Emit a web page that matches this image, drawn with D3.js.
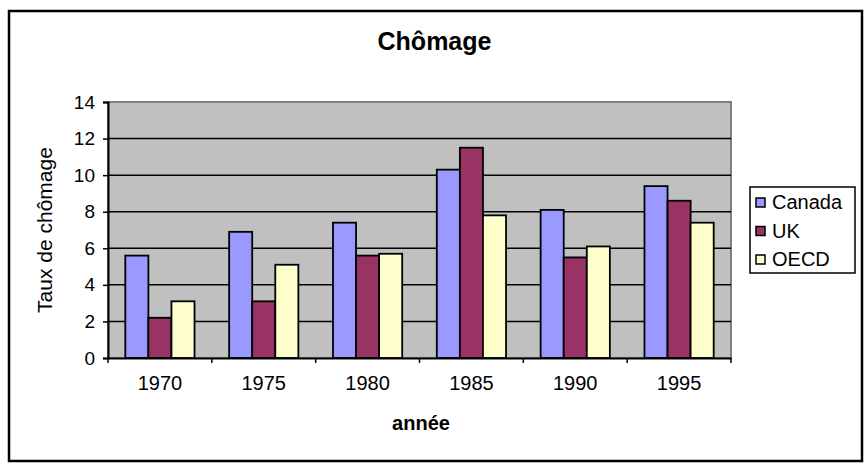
<!DOCTYPE html>
<html>
<head>
<meta charset="utf-8">
<script src="https://cdn.jsdelivr.net/npm/d3@7"></script>
<style>
  body { margin: 0; background: #fff; }
  svg { display: block; font-family: "Liberation Sans", Arial, sans-serif; }
</style>
</head>
<body>
<svg id="chart" width="865" height="466"></svg>
<script>
const years = ["1970", "1975", "1980", "1985", "1990", "1995"];
const seriesNames = ["Canada", "UK", "OECD"];
const canada = [5.6, 6.9, 7.4, 10.3, 8.1, 9.4];
const uk = [2.2, 3.1, 5.6, 11.5, 5.5, 8.6];
const oecd = [3.1, 5.1, 5.7, 7.8, 6.1, 7.4];
const yTicks = [0, 2, 4, 6, 8, 10, 12, 14];
const colors = ["#9999ff", "#993366", "#ffffcc"];

const svg = d3.select("#chart");
const margin = { top: 102, right: 134, bottom: 108, left: 108 };
const width = 865, height = 466;

// outer frame
svg.append("rect")
  .attr("x", 9).attr("y", 11)
  .attr("width", 853).attr("height", 450)
  .attr("fill", "#fff")
  .attr("stroke", "#000")
  .attr("stroke-width", 2.5);

svg.append("text")
  .attr("x", 434.5).attr("y", 50)
  .attr("text-anchor", "middle")
  .attr("font-size", 25)
  .attr("font-weight", "bold")
  .text("Chômage");

const x = d3.scaleBand()
  .domain(years)
  .range([margin.left, width - margin.right]);

const xs = d3.scaleBand()
  .domain(seriesNames)
  .range([0, x.bandwidth()])
  .paddingInner(0)
  .paddingOuter(0.75);

const y = d3.scaleLinear()
  .domain([0, 14])
  .range([height - margin.bottom, margin.top]);

// plot area
svg.append("rect")
  .attr("x", margin.left).attr("y", margin.top)
  .attr("width", width - margin.right - margin.left)
  .attr("height", height - margin.bottom - margin.top)
  .attr("fill", "#c0c0c0")
  .attr("stroke", "#808080")
  .attr("stroke-width", 2);

// gridlines
svg.append("g")
  .selectAll("line")
  .data(yTicks.filter(d => d > 0 && d < 14))
  .join("line")
  .attr("x1", margin.left).attr("x2", width - margin.right)
  .attr("y1", d => y(d)).attr("y2", d => y(d))
  .attr("stroke", "#000")
  .attr("stroke-width", 1.5);

const data = years.map((yr, i) => ({
  year: yr,
  values: [canada[i], uk[i], oecd[i]]
}));

svg.append("g")
  .selectAll("g")
  .data(data)
  .join("g")
  .attr("transform", d => `translate(${x(d.year)},0)`)
  .selectAll("rect")
  .data(d => d.values.map((v, j) => ({ name: seriesNames[j], value: v, color: colors[j] })))
  .join("rect")
  .attr("x", d => xs(d.name))
  .attr("width", xs.bandwidth())
  .attr("y", d => y(d.value))
  .attr("height", d => y(0) - y(d.value))
  .attr("fill", d => d.color)
  .attr("stroke", "#000")
  .attr("stroke-width", 1.8);

// axes
const yAxis = svg.append("g")
  .attr("transform", `translate(${margin.left},0)`)
  .call(d3.axisLeft(y).tickValues(yTicks).tickSize(5).tickPadding(8));
yAxis.select(".domain").attr("stroke-width", 2);
yAxis.selectAll(".tick line").attr("stroke-width", 1.5);
yAxis.selectAll("text").attr("font-size", 19).attr("fill", "#000");

const xAxis = svg.append("g")
  .attr("transform", `translate(0,${height - margin.bottom})`)
  .call(d3.axisBottom(x).tickSize(0).tickPadding(18));
xAxis.select(".domain").attr("stroke-width", 2);
xAxis.selectAll("text").attr("font-size", 20).attr("fill", "#000");

// x ticks between categories
svg.append("g")
  .selectAll("line")
  .data(years.concat(["end"]))
  .join("line")
  .attr("x1", (d, i) => margin.left + i * x.step())
  .attr("x2", (d, i) => margin.left + i * x.step())
  .attr("y1", y(0)).attr("y2", y(0) + 5)
  .attr("stroke", "#000")
  .attr("stroke-width", 1.5);

svg.append("text")
  .attr("x", 421).attr("y", 430)
  .attr("text-anchor", "middle")
  .attr("font-size", 20)
  .attr("font-weight", "bold")
  .text("année");

svg.append("text")
  .attr("transform", "translate(52,230) rotate(-90)")
  .attr("text-anchor", "middle")
  .attr("font-size", 21)
  .text("Taux de chômage");

// legend
const legend = svg.append("g").attr("transform", "translate(750,187)");
legend.append("rect")
  .attr("width", 105).attr("height", 86)
  .attr("fill", "#fff")
  .attr("stroke", "#000")
  .attr("stroke-width", 1.5);

const items = legend.selectAll("g")
  .data(seriesNames)
  .join("g")
  .attr("transform", (d, i) => `translate(0,${15 + i * 28.5})`);

items.append("rect")
  .attr("x", 6).attr("y", -4)
  .attr("width", 9).attr("height", 9)
  .attr("fill", (d, i) => colors[i])
  .attr("stroke", "#000")
  .attr("stroke-width", 1.5);

items.append("text")
  .attr("x", 22).attr("y", 7)
  .attr("font-size", 20)
  .text(d => d);
</script>
</body>
</html>
